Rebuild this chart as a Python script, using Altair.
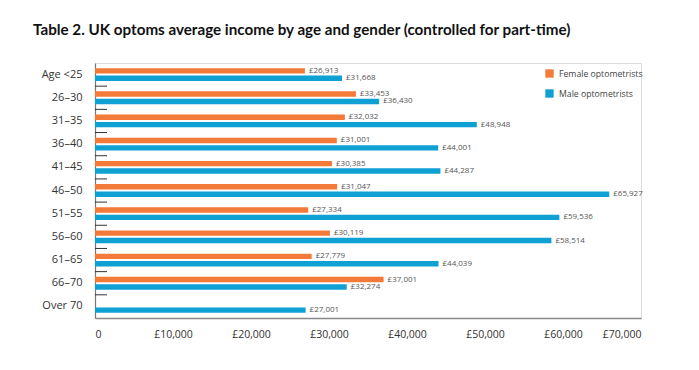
import altair as alt
import pandas as pd

ages = ["Age <25", "26–30", "31–35", "36–40", "41–45", "46–50",
        "51–55", "56–60", "61–65", "66–70", "Over 70"]
female = [26913, 33453, 32032, 31001, 30385, 31047, 27334, 30119, 27779, 37001, None]
male = [31668, 36430, 48948, 44001, 44287, 65927, 59536, 58514, 44039, 32274, 27001]
series = ["Female optometrists", "Male optometrists"]
colors = ["#F47A3A", "#0FA0D4"]
x_ticks = [0, 10000, 20000, 30000, 40000, 50000, 60000, 70000]

rows = []
for a, f, m in zip(ages, female, male):
    if f is not None:
        rows.append({"age": a, "series": series[0], "value": f})
    rows.append({"age": a, "series": series[1], "value": m})
df = pd.DataFrame(rows)
df["label"] = df["value"].map(lambda v: f"£{v:,}")

sep_df = pd.DataFrame({"age": ages[:-1]})

FONT = "Open Sans"

y_enc = alt.Y(
    "age:N", sort=ages, title=None,
    scale=alt.Scale(paddingInner=0, paddingOuter=0),
    axis=alt.Axis(ticks=False, domain=True, domainColor="#777777", domainWidth=1.2,
                  labelPadding=13, labelFontSize=11, labelColor="#333333",
                  labelFont=FONT),
)
x_enc = alt.X(
    "value:Q", title=None,
    scale=alt.Scale(domain=[0, 70000], nice=False),
    axis=alt.Axis(values=x_ticks, ticks=False, grid=False, domain=True,
                  domainColor="#888888", domainWidth=1.5, labelPadding=11,
                  labelFontSize=10.5, labelColor="#333333", labelFont=FONT,
                  labelExpr="datum.value == 0 ? '0' : '£' + format(datum.value, ',')"),
)
yoff = alt.YOffset("series:N", sort=series,
                   scale=alt.Scale(paddingInner=0.27, paddingOuter=0.7))

bars = alt.Chart(df).mark_bar().encode(
    x=x_enc,
    y=y_enc,
    yOffset=yoff,
    color=alt.Color("series:N", sort=series,
                    scale=alt.Scale(domain=series, range=colors),
                    legend=alt.Legend(title=None, orient="none", legendX=450, legendY=6,
                                      symbolType="square", symbolSize=70,
                                      symbolStrokeWidth=0, labelFontSize=8.7,
                                      labelColor="#444444", labelFont=FONT,
                                      rowPadding=10, labelOffset=5)),
)

labels = alt.Chart(df).mark_text(align="left", baseline="middle", dx=4, fontSize=8,
                                 color="#555555", font=FONT).encode(
    x=alt.X("value:Q"),
    y=alt.Y("age:N", sort=ages),
    yOffset=yoff,
    text="label:N",
)

seps = alt.Chart(sep_df).mark_rule(color="#333333", strokeWidth=1).encode(
    y=alt.Y("age:N", sort=ages, bandPosition=1),
    x=alt.value(0),
    x2=alt.value(12),
)

chart = alt.layer(bars, labels, seps).properties(
    width=546,
    height=255,
    title=alt.TitleParams(
        "Table 2. UK optoms average income by age and gender (controlled for part-time)",
        anchor="start", frame="group", dx=-62, offset=25, fontSize=15.2,
        font="Lato", fontWeight="bold", color="#111111"),
    autosize=alt.AutoSizeParams(type="none"),
    padding={"left": 87, "top": 55, "right": 50, "bottom": 40},
).configure_view(stroke=None).configure(background="white")

chart.save("out.html", embed_options={"renderer": "svg", "actions": False})
